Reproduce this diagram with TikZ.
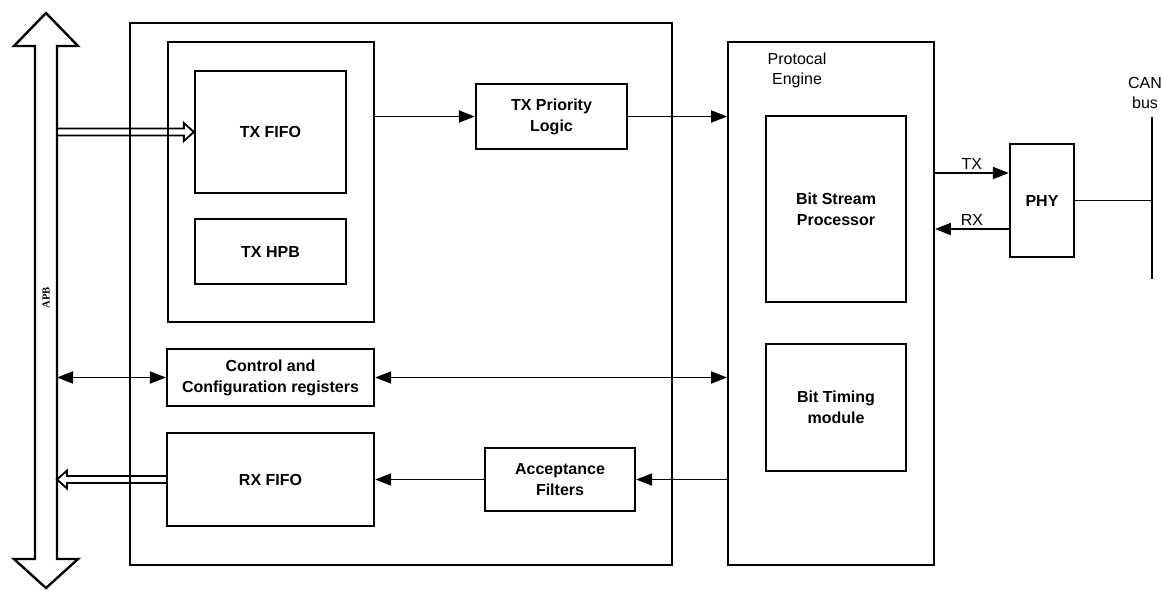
\documentclass[tikz,border=0pt]{standalone}
\usepackage{fontspec}
\setmainfont{Liberation Sans}
\newfontfamily\apbfont{Liberation Serif}
\usetikzlibrary{arrows.meta,calc}
\begin{document}
\begin{tikzpicture}[x=0.75pt,y=-0.75pt,
  box/.style={draw,line width=1.7pt,inner sep=0pt,align=center,
    font=\fontsize{12}{15.75}\selectfont\bfseries},
  frame/.style={draw,line width=1.4pt,inner sep=0pt},
  conn/.style={line width=1.4pt},
  arr/.style={conn,-{Triangle[length=12pt,width=9pt]}},
  darr/.style={conn,{Triangle[length=12pt,width=9pt]}-{Triangle[length=12pt,width=9pt]}},
  hollow/.style={line width=1.4pt,line join=miter},
  lbl/.style={font=\fontsize{12}{15}\selectfont,align=center,inner sep=1pt}]
\useasboundingbox (0,0) rectangle (1162,590);
% APB bus arrow
\draw[line width=1.8pt,line join=miter] (35,46) -- (14,46) -- (46,13) -- (78,46) -- (57,46)
  -- (57,559) -- (78,559) -- (46,588) -- (14,559) -- (35,559) -- cycle;
\node[rotate=90,font=\apbfont\fontsize{8}{8}\selectfont\bfseries,inner sep=0pt] (apb) at (46,298) {APB};
\coordinate (apbR) at (57,300);
% frames
\node[frame,minimum width=406.5pt,minimum height=406.5pt] (outer) at (401,294) {};
\node[frame,minimum width=154.5pt,minimum height=210pt] (txgroup) at (271,182) {};
\node[frame,minimum width=154.5pt,minimum height=392.25pt] (pe) at (831,303.5) {};
\node[lbl] (pelbl) at (797,70) {Protocal\\Engine};
% boxes
\node[box,minimum width=113.25pt,minimum height=91.5pt] (txfifo) at (270.5,132) {TX FIFO};
\node[box,minimum width=113.25pt,minimum height=48.75pt] (txhpb) at (270.5,251.5) {TX HPB};
\node[box,minimum width=113.25pt,minimum height=48.75pt] (txprio) at (551.5,116.5) {TX Priority\\Logic};
\node[box,minimum width=155.25pt,minimum height=42.75pt] (ctrl) at (270.5,377.5) {Control and\\Configuration registers};
\node[box,minimum width=155.25pt,minimum height=69.75pt] (rxfifo) at (270.5,479.5) {RX FIFO};
\node[box,minimum width=112.5pt,minimum height=47.25pt] (acc) at (560,479.5) {Acceptance\\Filters};
\node[box,minimum width=105pt,minimum height=139.5pt] (bsp) at (836,209) {Bit Stream\\Processor};
\node[box,minimum width=105pt,minimum height=95.25pt] (btm) at (836,407.5) {Bit Timing\\module};
\node[box,minimum width=48pt,minimum height=84.75pt] (phy) at (1042,200.5) {PHY};
% hollow arrows
\draw[hollow] ($(apbR |- txfifo.west)+(0,-3.5)$) -- ($(txfifo.west)+(-10,-3.5)$)
  -- ($(txfifo.west)+(-10,-9)$) -- (txfifo.west) -- ($(txfifo.west)+(-10,9)$)
  -- ($(txfifo.west)+(-10,3.5)$) -- ($(apbR |- txfifo.west)+(0,3.5)$);
\draw[hollow] ($(rxfifo.west)+(0,-3.5)$) -- ($(apbR |- rxfifo.west)+(10,-3.5)$)
  -- ($(apbR |- rxfifo.west)+(10,-9)$) -- (apbR |- rxfifo.west) -- ($(apbR |- rxfifo.west)+(10,9)$)
  -- ($(apbR |- rxfifo.west)+(10,3.5)$) -- ($(rxfifo.west)+(0,3.5)$);
% connectors
\draw[arr] (txgroup.east |- txprio.west) -- (txprio.west);
\draw[arr] (txprio.east) -- (pe.west |- txprio.east);
\draw[darr] (apbR |- ctrl.west) -- (ctrl.west);
\draw[darr] (ctrl.east) -- (pe.west |- ctrl.east);
\draw[arr] (pe.west |- acc.east) -- (acc.east);
\draw[arr] (acc.west) -- (rxfifo.east |- acc.west);
\coordinate (txy) at (0,173);
\coordinate (rxy) at (0,229);
\draw[arr] (pe.east |- txy) -- node[lbl,above=1pt] {TX} (phy.west |- txy);
\draw[arr] (phy.west |- rxy) -- node[lbl,above=1pt] {RX} (pe.east |- rxy);
% CAN bus
\coordinate (canT) at (1152,117);
\coordinate (canB) at (1152,279);
\draw[conn] (canT) -- (canB);
\draw[conn] (phy.east) -- (phy.east -| canT);
\node[lbl] (canlbl) at (1145,93) {CAN\\bus};
\end{tikzpicture}
\end{document}
